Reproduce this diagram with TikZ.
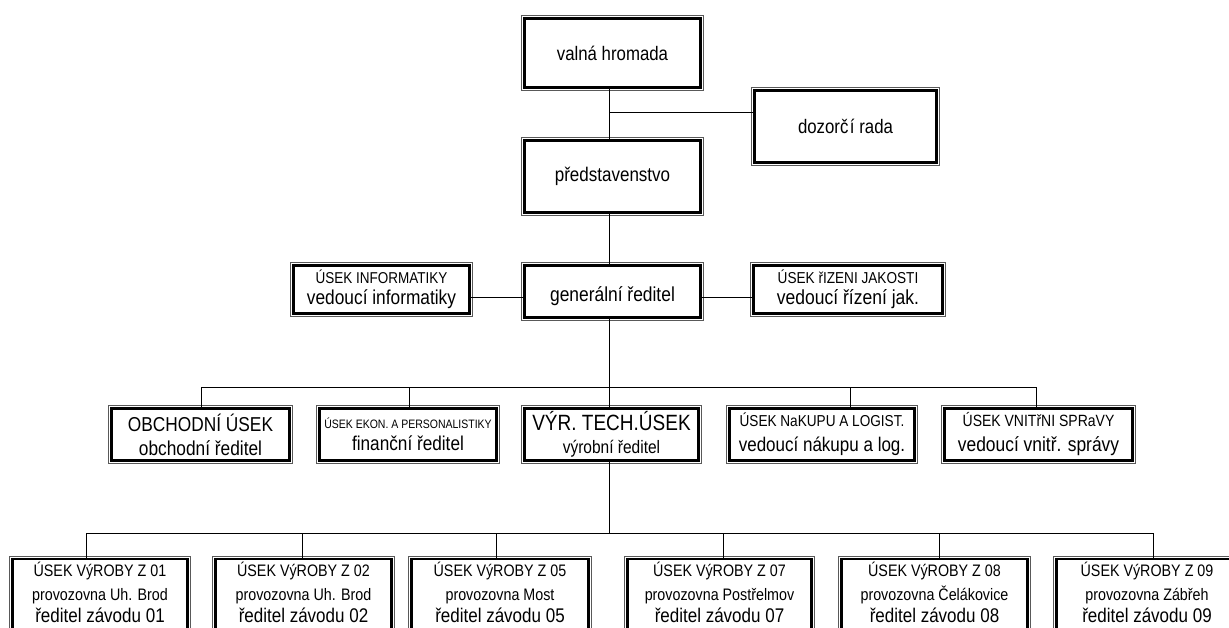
\documentclass[tikz,border=0pt]{standalone}
\usepackage{fontspec}
\setmainfont{Liberation Sans}[FakeStretch=0.86]
\newcommand\fz[1]{\fontsize{\fpeval{#1*1.163}}{20}\selectfont}
\begin{document}
\begin{tikzpicture}[x=1pt,y=-1pt,
  obox/.style 2 args={draw=black, line width=2.4pt, fill=white,
    minimum width=#1pt-7pt, minimum height=#2pt-7pt, inner sep=0pt,
    align=center, font=\fz{17}},
  rbox/.style={draw=black, line width=2.4pt, fill=white,
    minimum width=#1pt-7pt, anchor=north, inner xsep=0pt, inner ysep=3pt,
    align=center, font=\fz{14.3}},
  thinframe/.style={draw=black!65, line width=0.7pt},
  conn/.style={draw=black, line width=1pt}]
\path[use as bounding box] (0,0) rectangle (1229,628);
\clip (0,0) rectangle (1229,628);
\fill[white] (0,0) rectangle (1229,628);

% top level
\node[obox={183}{76}] (vh) at (612.5,53) {\fz{16.8}valná hromada};
\node[obox={189}{79}] (dr) at (845.5,126.5) {\fz{16.8}dozorč\kern1.5ptí rada};
\node[obox={183}{79}] (pr) at (612.5,176.5) {\fz{17}představenstvo};

% second level
\node[obox={183}{55}] (ui) at (381.5,289.5)
  {{\fz{13.5}ÚSEK INFORMATIKY}\\[1pt]{\fz{17.3}vedoucí informatiky}};
\node[obox={183}{59}] (gr) at (612.5,291.5)
  {{}\\[4pt]{\fz{17.4}generální ředitel}};
\node[obox={196}{55}] (rj) at (848,289.5)
  {{\fz{13.6}ÚSEK řIZENI JAKOSTI}\\[1pt]{\fz{17.5}vedoucí řízení jak.}};

% third level
\node[obox={185}{59}] (ob) at (200.5,434.5)
  {{\fz{17.3}OBCHODNÍ ÚSEK}\\[4pt]{\fz{17.3}obchodní ředitel}};
\node[obox={184}{59}] (ek) at (408,434.5)
  {{\fz{10.5}ÚSEK EKON. A PERSONALISTIKY}\\[1.5pt]{\fz{17.2}finanční ředitel}};
\node[obox={181}{59}] (vt) at (611.5,434.5)
  {{\fz{19}VÝR. TECH.ÚSEK}\\[3pt]{\fz{15.5}výrobní ředitel}};
\node[obox={192}{59}] (nk) at (822,434.5)
  {{\fz{13.6}ÚSEK NaKUPU A LOGIST.}\\[5pt]{\fz{17}vedoucí nákupu a log.}};
\node[obox={195}{59}] (vs) at (1038.5,434.5)
  {{\fz{14}ÚSEK VNITřNI SPRaVY}\\[5pt]{\fz{17.4}vedoucí vnitř. správy}};

% bottom level
\node[rbox=182] (z1) at (100,558)
  {ÚSEK VýROBY Z 01\\[4pt]provozovna Uh. Brod\\[2pt]{\fz{17}ředitel závodu 01\rule[-30pt]{0pt}{1pt}}};
\node[rbox=183] (z2) at (303.5,558)
  {ÚSEK VýROBY Z 02\\[4pt]provozovna Uh. Brod\\[2pt]{\fz{17}ředitel závodu 02\rule[-30pt]{0pt}{1pt}}};
\node[rbox=184] (z5) at (500,558)
  {ÚSEK VýROBY Z 05\\[4pt]provozovna Most\\[2pt]{\fz{17}ředitel závodu 05\rule[-30pt]{0pt}{1pt}}};
\node[rbox=191] (z7) at (719.5,558)
  {ÚSEK VýROBY Z 07\\[4pt]provozovna Postřelmov\\[2pt]{\fz{17}ředitel závodu 07\rule[-30pt]{0pt}{1pt}}};
\node[rbox=193] (z8) at (934.5,558)
  {ÚSEK VýROBY Z 08\\[4pt]provozovna Čelákovice\\[2pt]{\fz{17}ředitel závodu 08\rule[-30pt]{0pt}{1pt}}};
\node[rbox=188] (z9) at (1147,558)
  {ÚSEK VýROBY Z 09\\[4pt]provozovna Zábřeh\\[2pt]{\fz{17}ředitel závodu 09\rule[-30pt]{0pt}{1pt}}};

% thin outer frames
\foreach \n in {vh,dr,pr,ui,gr,rj,ob,ek,vt,nk,vs,z1,z2,z5,z7,z8,z9}
  \draw[thinframe] ([shift={(-2pt,2pt)}]\n.north west) rectangle ([shift={(2pt,-2pt)}]\n.south east);

% connector coordinates
\coordinate (j1) at (609,113);
\coordinate (l1) at (609,298);
\coordinate (b2) at (609,387);
\coordinate (b3) at (609,533);
\coordinate (d1) at (201,387);
\coordinate (d2) at (409,387);
\coordinate (d4) at (850,387);
\coordinate (d5) at (1036,387);
\coordinate (e1) at (86,533);
\coordinate (e2) at (302,533);
\coordinate (e3) at (496,533);
\coordinate (e4) at (723,533);
\coordinate (e5) at (939,533);
\coordinate (e6) at (1153,533);

% connectors
\draw[conn] (vh.south -| j1) -- (pr.north -| j1);
\draw[conn] (j1) -- (j1 -| dr.west);
\draw[conn] (pr.south -| j1) -- (gr.north -| j1);
\draw[conn] (ui.east |- l1) -- (gr.west |- l1);
\draw[conn] (gr.east |- l1) -- (rj.west |- l1);
\draw[conn] (gr.south -| b2) -- (b2);
\draw[conn] (ob.north -| d1) -- (d1) -- (d5) -- (vs.north -| d5);
\draw[conn] (ek.north -| d2) -- (d2);
\draw[conn] (vt.north -| b2) -- (b2);
\draw[conn] (nk.north -| d4) -- (d4);
\draw[conn] (vt.south -| b3) -- (b3);
\draw[conn] (z1.north -| e1) -- (e1) -- (e6) -- (z9.north -| e6);
\draw[conn] (z2.north -| e2) -- (e2);
\draw[conn] (z5.north -| e3) -- (e3);
\draw[conn] (z7.north -| e4) -- (e4);
\draw[conn] (z8.north -| e5) -- (e5);
\end{tikzpicture}
\end{document}
